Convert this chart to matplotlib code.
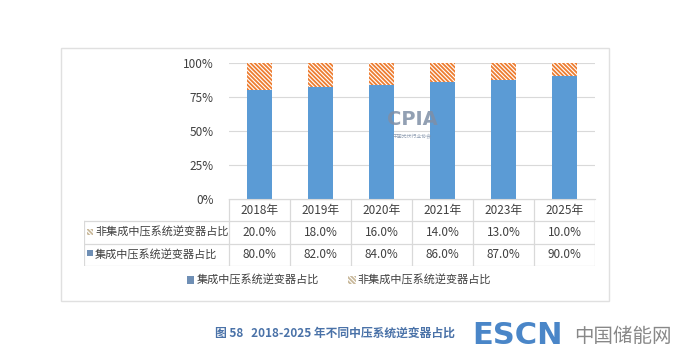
import matplotlib.pyplot as plt
from matplotlib.patches import Rectangle

plt.rcParams['font.family'] = ['Noto Sans CJK SC', 'DejaVu Sans']
plt.rcParams['hatch.color'] = '#ED7D31'
plt.rcParams['hatch.linewidth'] = 1.3

# Data
years = ['2018年', '2019年', '2020年', '2021年', '2023年', '2025年']
integrated = [80.0, 82.0, 84.0, 86.0, 87.0, 90.0]
non_integrated = [20.0, 18.0, 16.0, 14.0, 13.0, 10.0]
name_int = '集成中压系统逆变器占比'
name_non = '非集成中压系统逆变器占比'
y_ticks = [0, 25, 50, 75, 100]

W, H = 677, 359
BLUE = '#5B9BD5'
GRID = '#D9D9D9'
TXT = '#404040'
HATCH = '\\' * 8


def fx(px):
    return px / W


def fy(py):
    return 1 - py / H


fig = plt.figure(figsize=(W / 100, H / 100), dpi=100)
fig.patch.set_facecolor('white')

# outer frame
fig.patches.append(Rectangle((fx(61), fy(301)), fx(609) - fx(61), fy(48) - fy(301),
                             transform=fig.transFigure, fill=False, edgecolor='#E0E0E0', lw=1))

# chart axes
left, right, top, bottom = 229, 595, 62.7, 199
ax = fig.add_axes([fx(left), fy(bottom), fx(right) - fx(left), fy(top) - fy(bottom)])
x = range(len(years))
ax.bar(x, integrated, width=0.4, color=BLUE, zorder=2)
ax.bar(x, non_integrated, width=0.4, bottom=integrated, color='white',
       hatch=HATCH, edgecolor='#ED7D31', linewidth=0, zorder=2)
ax.set_xlim(-0.5, len(years) - 0.5)
ax.set_ylim(0, 100)
ax.set_yticks(y_ticks)
ax.set_yticklabels([f'{t}%' for t in y_ticks], fontsize=8.5, color=TXT)
ax.set_xticks([])
ax.tick_params(axis='y', length=0, pad=11)
ax.grid(axis='y', color=GRID, lw=0.8, zorder=0)
for s in ['top', 'right', 'left']:
    ax.spines[s].set_visible(False)
ax.spines['bottom'].set_color(GRID)

# CPIA watermark
ax.text(2.5, 58, 'CPIA', ha='center', va='center', fontsize=14, fontweight='bold',
        color='#7F8FA6', alpha=0.85, zorder=3, family='DejaVu Sans')
ax.text(2.5, 46, '中国光伏行业协会', ha='center', va='center', fontsize=3.5,
        color='#7F8FA6', alpha=0.85, zorder=3)

# data table
tl, tr, ttop, tbot = 84, 595, 199, 266
tax = fig.add_axes([fx(tl), fy(tbot), fx(tr) - fx(tl), fy(ttop) - fy(tbot)])
tax.set_xlim(tl, tr)
tax.set_ylim(tbot, ttop)
tax.axis('off')
col_w = (tr - left) / len(years)
rows_y = [199, 221.5, 243.5, 266]
lc = dict(color=GRID, lw=0.9)
tax.plot([left, tr], [rows_y[0], rows_y[0]], **lc)
for yy in rows_y[1:]:
    tax.plot([tl, tr], [yy, yy], **lc)
tax.plot([tl, tl], [rows_y[1], rows_y[3]], **lc)
for i in range(len(years) + 1):
    xx = left + i * col_w
    tax.plot([xx, xx], [rows_y[0], rows_y[3]], **lc)

for i, yr in enumerate(years):
    cx = left + (i + 0.5) * col_w
    tax.text(cx, (rows_y[0] + rows_y[1]) / 2, yr, ha='center', va='center', fontsize=8.5, color=TXT)
    tax.text(cx, (rows_y[1] + rows_y[2]) / 2, f'{non_integrated[i]:.1f}%', ha='center', va='center',
             fontsize=8.5, color=TXT)
    tax.text(cx, (rows_y[2] + rows_y[3]) / 2, f'{integrated[i]:.1f}%', ha='center', va='center',
             fontsize=8.5, color=TXT)

# row labels with keys
ym1 = (rows_y[1] + rows_y[2]) / 2
ym2 = (rows_y[2] + rows_y[3]) / 2
tax.add_patch(Rectangle((86.5, ym1 - 3), 6, 6, facecolor='white', hatch=HATCH, edgecolor='#C8B89A', lw=0))
tax.add_patch(Rectangle((86.5, ym2 - 5), 6, 6, facecolor='#6F8FB5', lw=0))
tax.text(95, ym1, name_non, ha='left', va='center', fontsize=8, color=TXT)
tax.text(95, ym2, name_int, ha='left', va='center', fontsize=8, color=TXT)

# legend
h1 = Rectangle((0, 0), 1, 1, facecolor='#6F8FB5', lw=0)
h2 = Rectangle((0, 0), 1, 1, facecolor='white', hatch=HATCH, edgecolor='#C8B89A', lw=0)
fig.legend([h1, h2], [name_int, name_non], loc='center', bbox_to_anchor=(fx(339), fy(280)),
           ncol=2, frameon=False, fontsize=8, handlelength=0.7, handleheight=0.7,
           handletextpad=0.2, columnspacing=2.6, labelcolor=TXT)

# caption and site mark
fig.text(fx(215), fy(333), '图 58   2018-2025 年不同中压系统逆变器占比', ha='left', va='center',
         fontsize=8.5, color='#4A72A8', fontweight='bold')
fig.text(fx(472), fy(336), 'ESCN', ha='left', va='center', fontsize=22, fontweight='bold',
         color='#4A86C8', family='DejaVu Sans')
fig.text(fx(574), fy(336), '中国储能网', ha='left', va='center', fontsize=14, color='#888888')

fig.savefig('out.png', dpi=100)
